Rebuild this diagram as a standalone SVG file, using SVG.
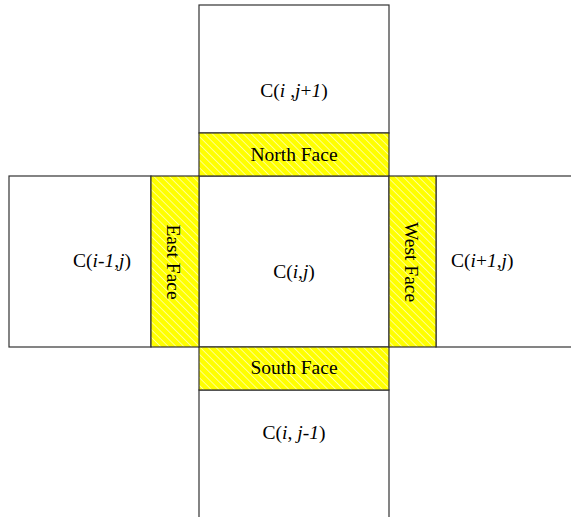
<svg xmlns="http://www.w3.org/2000/svg" width="571" height="517" viewBox="0 0 571 517">
<style>
.cell{fill:#fff;stroke:#333;stroke-width:1.2}
.face{fill:url(#hatch);stroke:#333;stroke-width:1.2}
text{font-family:"Liberation Serif","Times New Roman",serif;font-size:19.5px;fill:#000}
</style>
<defs>
<pattern id="hatch" patternUnits="userSpaceOnUse" width="5.5" height="5.5" patternTransform="rotate(-45)">
<rect width="5.5" height="5.5" fill="#ffff00"/>
<line x1="0" y1="0" x2="0" y2="5.5" stroke="#fff" stroke-width="1.1"/>
</pattern>
</defs>
<g id="cell-top"><rect class="cell" x="199" y="5" width="190" height="128"/><text x="294" y="97" text-anchor="middle">C(<tspan font-style="italic">i</tspan> ,<tspan font-style="italic">j</tspan>+<tspan font-style="italic">1</tspan>)</text></g>
<g id="cell-left"><rect class="cell" x="9" y="176" width="142" height="171"/><text x="73" y="267">C(<tspan font-style="italic">i</tspan>-<tspan font-style="italic">1</tspan>,<tspan font-style="italic">j</tspan>)</text></g>
<g id="cell-right"><rect class="cell" x="436" y="176" width="140" height="171"/><text x="451" y="267">C(<tspan font-style="italic">i</tspan>+<tspan font-style="italic">1</tspan>,<tspan font-style="italic">j</tspan>)</text></g>
<g id="cell-bottom"><rect class="cell" x="199" y="390" width="190" height="135"/><text x="294" y="439" text-anchor="middle">C(<tspan font-style="italic">i</tspan>, <tspan font-style="italic">j</tspan>-<tspan font-style="italic">1</tspan>)</text></g>
<g id="cell-center"><rect class="cell" x="199" y="176" width="190" height="171"/><text x="294" y="278" text-anchor="middle">C(<tspan font-style="italic">i</tspan>,<tspan font-style="italic">j</tspan>)</text></g>
<g id="north-face"><rect class="face" x="199" y="133" width="190" height="43"/><text x="294" y="161" text-anchor="middle">North Face</text></g>
<g id="south-face"><rect class="face" x="199" y="347" width="190" height="43"/><text x="294" y="374" text-anchor="middle">South Face</text></g>
<g id="east-face"><rect class="face" x="151" y="176" width="48" height="171"/><text transform="translate(167 262) rotate(90)" text-anchor="middle">East Face</text></g>
<g id="west-face"><rect class="face" x="389" y="176" width="47" height="171"/><text transform="translate(405 262) rotate(90)" text-anchor="middle">West Face</text></g>
<g id="connectors"></g>
</svg>
